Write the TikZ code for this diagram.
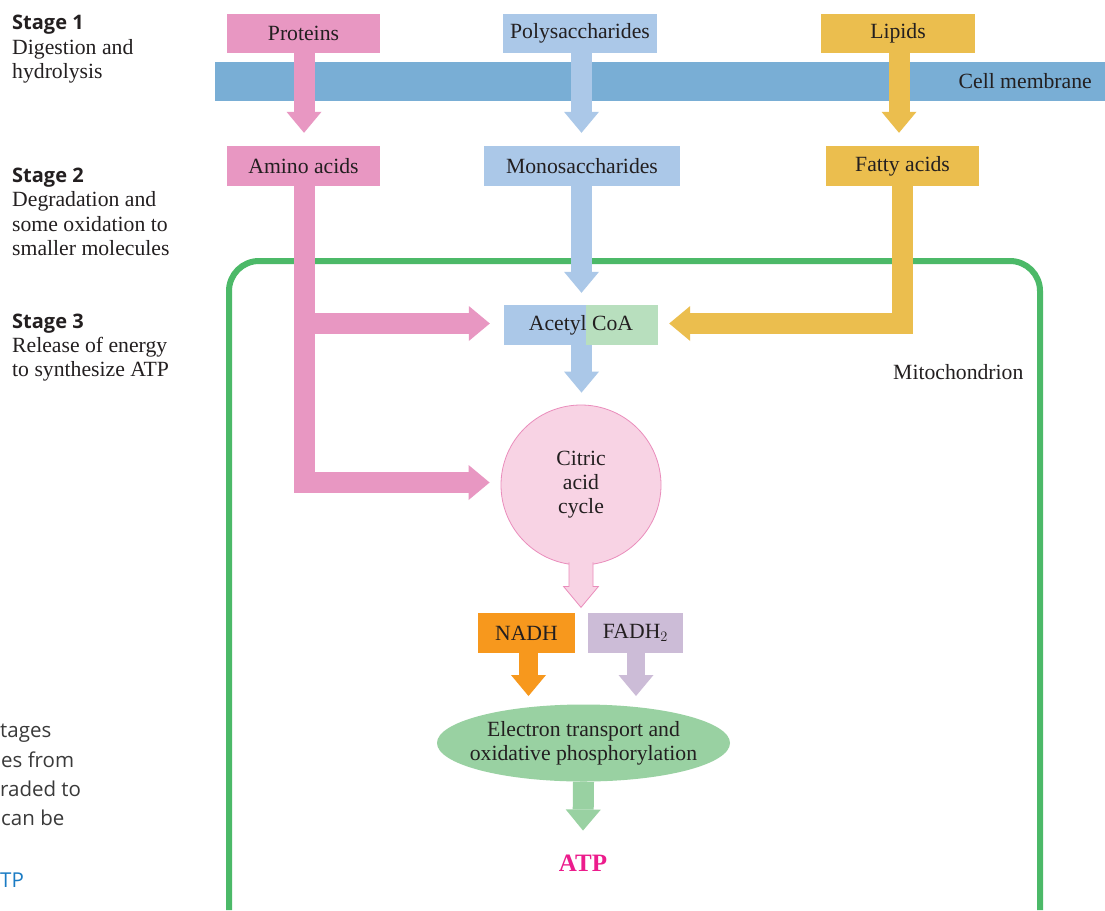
\documentclass[tikz,border=0pt]{standalone}
\usepackage{fontspec}
\setmainfont{Liberation Serif}
\newfontfamily\sansfam{Open Sans}
\usetikzlibrary{arrows.meta,calc,shapes.geometric}
\definecolor{txt}{HTML}{231F20}
\definecolor{protc}{HTML}{E897C2}
\definecolor{polyc}{HTML}{ABC8E8}
\definecolor{lipc}{HTML}{EBBE4E}
\definecolor{membc}{HTML}{79AED5}
\definecolor{coagreen}{HTML}{B8DFBE}
\definecolor{mitoc}{HTML}{4CB968}
\definecolor{cycfill}{HTML}{F8D3E4}
\definecolor{cycedge}{HTML}{EA8DBC}
\definecolor{nadhc}{HTML}{F7981D}
\definecolor{fadhc}{HTML}{CCBCD7}
\definecolor{etcc}{HTML}{99D1A2}
\definecolor{atpc}{HTML}{EC1C8C}
\definecolor{sidegray}{HTML}{3A3A3A}
\definecolor{sideblue}{HTML}{1A7BC4}
\newcommand\boxfont{\fontsize{21.7pt}{24pt}\selectfont}
\newcommand\stagefont{\sansfam\bfseries\fontsize{20pt}{24pt}\selectfont}
\newcommand\sidefont{\sansfam\fontsize{20.5pt}{24pt}\selectfont}
\begin{document}
\begin{tikzpicture}[x=1pt,y=-1pt,
  box/.style={rectangle, inner sep=0pt, minimum height=40pt, text=txt, font=\boxfont},
  fat/.style={line width=21pt, -{Triangle[width=35pt,length=21pt,line width=0pt]}},
  stagehead/.style={anchor=base west, inner sep=0pt, text=txt, font=\stagefont},
  stagetext/.style={anchor=base west, inner sep=0pt, text=txt, font=\boxfont},
  sidetext/.style={anchor=base west, inner sep=0pt, text=sidegray, font=\sidefont}]
\useasboundingbox (0,0) rectangle (1105,910);
\fill[white] (0,0) rectangle (1105,910);

% stage labels
\node[stagehead] (s1) at (12,29) {Stage 1};
\node[stagetext] (s1a) at (12,54) {Digestion and};
\node[stagetext] (s1b) at (12,78) {hydrolysis};
\node[stagehead] (s2) at (12,182) {Stage 2};
\node[stagetext] (s2a) at (12,206) {Degradation and};
\node[stagetext] (s2b) at (12,231) {some oxidation to};
\node[stagetext] (s2c) at (12,255) {smaller molecules};
\node[stagehead] (s3) at (12,328) {Stage 3};
\node[stagetext] (s3a) at (12,352) {Release of energy};
\node[stagetext] (s3b) at (12,376) {to synthesize ATP};

% clipped side caption
\node[sidetext] (c1) at (0,737) {tages};
\node[sidetext] (c2) at (1,767) {es from};
\node[sidetext] (c3) at (0,796) {raded to};
\node[sidetext] (c4) at (1,825) {can be};
\node[sidetext, text=sideblue] (c5) at (0,887) {TP};

% cell membrane
\fill[membc] (215,62) rectangle (1105,101);
\node[anchor=east, inner sep=0pt, text=txt, font=\boxfont] (memb) at (1092,81) {Cell membrane};

% mitochondrion
\draw[mitoc, line width=6pt, rounded corners=30pt] (229,910) -- (229,261) -- (1040,261) -- (1040,910);
\node[anchor=base west, inner sep=0pt, text=txt, font=\boxfont] (mitolab) at (893,379) {Mitochondrion};

% top boxes
\node[box, fill=protc, minimum width=153pt, minimum height=39pt] (prot) at (303.5,33.5) {Proteins};
\node[box, fill=polyc, minimum width=154pt, minimum height=39pt] (poly) at (580,33.5) {Polysaccharides};
\node[box, fill=lipc, minimum width=154pt, minimum height=39pt] (lip) at (898,33.5) {Lipids};

% stage 2 boxes
\node[box, fill=protc, minimum width=153pt] (amino) at (303.5,166) {Amino acids};
\node[box, fill=polyc, minimum width=196pt] (mono) at (582,166) {Monosaccharides};
\node[box, fill=lipc, minimum width=153pt] (fatty) at (902.5,166) {Fatty acids};

% acetyl CoA
\fill[polyc] (504,305) rectangle (586,345);
\fill[coagreen] (586,305) rectangle (658,345);
\node[box, minimum width=154pt] (acetyl) at (581,325) {Acetyl CoA};

% citric acid cycle
\node[circle, fill=cycfill, draw=cycedge, line width=0.8pt, minimum size=160pt, inner sep=0pt,
      align=center, text=txt, font=\boxfont] (cac) at (581,485) {Citric\\acid\\cycle};

% NADH, FADH2
\node[box, fill=nadhc, minimum width=97pt] (nadh) at (526.5,633) {NADH};
\node[box, fill=fadhc, minimum width=95pt] (fadh) at (635.5,633) {FADH$_2$};

% electron transport
\node[ellipse, fill=etcc, minimum width=293pt, minimum height=77pt, inner sep=0pt] (etc) at (583.5,743) {};
\node[align=center, inner sep=0pt, text=txt, font=\boxfont] (etctext) at (etc.center) {Electron transport and\\oxidative phosphorylation};

% ATP
\node[inner sep=0pt, text=atpc, font=\fontsize{25pt}{28pt}\selectfont\bfseries] (atp) at (583,863) {ATP};

% arrows stage 1 -> 2
\draw[fat, protc] (304,53) -- ($(amino.north)+(0.5,-13)$);
\draw[fat, polyc] (581.5,53) -- ($(mono.north)+(-0.5,-13)$);
\draw[fat, lipc] (899,53) -- ($(fatty.north)+(-3.5,-13)$);

% amino acids branches
\draw[fat, protc] (304,186) |- ($(cac.west)+(-11,-2.5)$);
\draw[fat, protc] (304,323.5) -- ($(acetyl.west)+(-14,-1.5)$);

% monosaccharides -> acetyl
\draw[fat, polyc] (581.5,186) -- ($(acetyl.north)+(0.5,-12)$);
% fatty acids -> acetyl
\draw[fat, lipc] (902,186) |- ($(acetyl.east)+(11,-1.5)$);
% acetyl -> cycle
\draw[fat, polyc] (581.5,345) -- ($(cac.north)+(0.5,-12)$);

% cycle -> NADH/FADH2 (outlined arrow)
\draw[cycedge, fill=cycfill, line width=0.8pt, line join=miter]
  ($(cac.south)+(-12,-3)$) -- ($(cac.south)+(-12,21)$) -- ($(cac.south)+(-17.5,21)$)
  -- ($(cac.south)+(0,42)$) -- ($(cac.south)+(17.5,21)$) -- ($(cac.south)+(12,21)$)
  -- ($(cac.south)+(12,-3)$);

% NADH, FADH2 -> ETC
\coordinate (nadhtip) at (528.5,696);
\coordinate (fadhtip) at (636,696);
\draw[fat, nadhc, line width=19pt] (nadh.south -| nadhtip) -- (nadhtip);
\draw[fat, fadhc, line width=18pt] (fadh.south -| fadhtip) -- (fadhtip);

% ETC -> ATP
\draw[fat, etcc] (etc.south) -- ($(atp.north)+(0,-24)$);
\end{tikzpicture}
\end{document}
